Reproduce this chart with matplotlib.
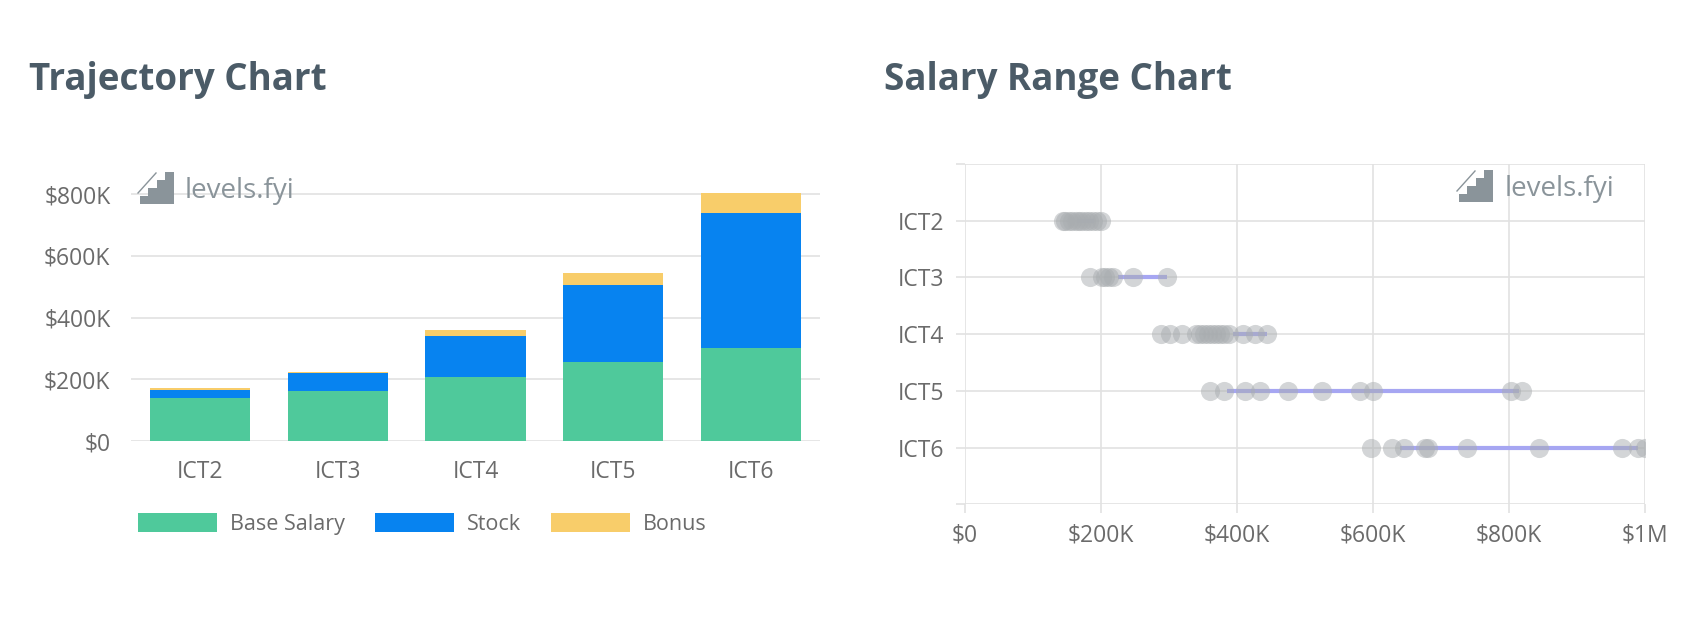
import matplotlib.pyplot as plt
from matplotlib.patches import Rectangle
from matplotlib.lines import Line2D
from matplotlib.ticker import FuncFormatter
import numpy as np

# --- data (values in $K) ---
levels = ['ICT2', 'ICT3', 'ICT4', 'ICT5', 'ICT6']
base_salary = [139, 161, 206, 256, 303]
stock = [26, 58, 133, 251, 435]
bonus = [6, 6, 20, 38, 65]

ict2_pay = [144, 148, 153, 158, 163, 168, 173, 178, 183, 188, 194, 200]
ict3_pay = [184, 202, 207, 212, 218, 247, 297]
ict4_pay = [288, 302, 320, 340, 346, 352, 358, 364, 370, 376, 382, 388, 409, 427, 445]
ict5_pay = [360, 382, 412, 434, 476, 525, 582, 601, 804, 820]
ict6_pay = [597, 628, 646, 677, 681, 738, 844, 967, 990, 1000]
range_low = [165, 225, 395, 385, 640]
range_high = [190, 297, 445, 815, 990]

W, H = 1706, 626
TITLE_C = '#4b5b67'
TICK_C = '#6b6b6b'
GRID_C = '#e2e2e2'
LOGO_C = '#8a949a'
FONT = ['Open Sans', 'DejaVu Sans']

plt.rcParams['font.family'] = FONT


def money(v, pos=None):
    if v == 0:
        return '$0'
    if v >= 1e6:
        return f'${v / 1e6:g}M'
    return f'${v / 1e3:g}K'


def px_axes(fig, x0, y0, x1, y1):
    return fig.add_axes([x0 / W, 1 - y1 / H, (x1 - x0) / W, (y1 - y0) / H])


def draw_logo(fig, x, y, tx):
    # small staircase icon + wordmark, pixel coords (top-left of icon)
    t = fig.transFigure
    steps = 4
    sw = 34 / steps
    for i in range(steps):
        h = 8 * (i + 1)
        fig.add_artist(Rectangle(((x + 2 + i * sw) / W, 1 - (y + 33) / H), (sw + 0.5) / W, h / H,
                                 transform=t, color=LOGO_C, lw=0))
    fig.add_artist(Line2D([(x) / W, (x + 18) / W], [1 - (y + 22) / H, 1 - (y + 2) / H],
                          transform=t, color=LOGO_C, lw=1))
    fig.text(tx / W, 1 - (y + 27) / H, 'levels.fyi', color=LOGO_C, fontsize=20,
             va='baseline', ha='left')


fig = plt.figure(figsize=(W / 100, H / 100), dpi=100)

# ---------------- Trajectory chart ----------------
ax = px_axes(fig, 130.6, 188.1, 820.4, 441)
x = np.arange(len(levels))
base_arr = np.array(base_salary) * 1e3
stock_arr = np.array(stock) * 1e3
bonus_arr = np.array(bonus) * 1e3
bw = 0.725
b1 = ax.bar(x, base_arr, bw, color='#4fc99b', label='Base Salary', zorder=3)
b2 = ax.bar(x, stock_arr, bw, bottom=base_arr, color='#0783f0', label='Stock', zorder=3)
b3 = ax.bar(x, bonus_arr, bw, bottom=base_arr + stock_arr, color='#f8cd6a', label='Bonus', zorder=3)
ax.set_xlim(-0.5, len(levels) - 0.5)
ax.set_ylim(0, 820e3)
ax.set_yticks(np.arange(0, 800001, 200000))
ax.yaxis.set_major_formatter(FuncFormatter(money))
ax.set_xticks(x)
ax.set_xticklabels(levels)
ax.grid(axis='y', color=GRID_C, lw=1.2, zorder=0)
for s in ax.spines.values():
    s.set_visible(False)
ax.tick_params(axis='both', length=0, labelsize=16.5, colors=TICK_C)
ax.tick_params(axis='y', pad=14.5)
ax.tick_params(axis='x', pad=14)

fig.legend(handles=[b1, b2, b3], loc='center left', bbox_to_anchor=(138 / W, 1 - 524 / H),
           ncol=3, frameon=False, fontsize=15.5, labelcolor=TICK_C, handlelength=3.67,
           handleheight=1.02, handletextpad=0.6, columnspacing=1.4, borderpad=0,
           borderaxespad=0)

fig.text(29 / W, 1 - 90 / H, 'Trajectory Chart', fontsize=26.5, fontweight='bold',
         color=TITLE_C, va='baseline')
draw_logo(fig, 138, 171, 185)

# ---------------- Salary range chart ----------------
ax2 = px_axes(fig, 964.7, 164, 1644.7, 504.3)
all_pay = [ict2_pay, ict3_pay, ict4_pay, ict5_pay, ict6_pay]
for i, pay in enumerate(all_pay):
    yy = i + 1
    ax2.plot([range_low[i] * 1e3, range_high[i] * 1e3], [yy, yy], color='#a6a6f2',
             lw=3, solid_capstyle='butt', zorder=2)
    ax2.scatter(np.array(pay) * 1e3, [yy] * len(pay), s=190, color='#a9adb0',
                alpha=0.5, lw=0, zorder=3)
ax2.set_xlim(0, 1e6)
ax2.set_ylim(6, 0)
ax2.set_xticks(np.arange(0, 1000001, 200000))
ax2.xaxis.set_major_formatter(FuncFormatter(money))
ax2.set_yticks(range(7))
ax2.set_yticklabels([''] + levels + [''])
ax2.grid(True, color=GRID_C, lw=1.2, zorder=0)
for s in ax2.spines.values():
    s.set_visible(False)
ax2.tick_params(axis='both', length=6.5, width=1.2, color=GRID_C, labelsize=16.5,
                labelcolor=TICK_C)
ax2.tick_params(axis='y', pad=8.5)
ax2.tick_params(axis='x', pad=7.5)

fig.text(884.5 / W, 1 - 90 / H, 'Salary Range Chart', fontsize=26.5, fontweight='bold',
         color=TITLE_C, va='baseline')
draw_logo(fig, 1457, 169, 1505)

fig.savefig('out.png', dpi=100, facecolor='white')
